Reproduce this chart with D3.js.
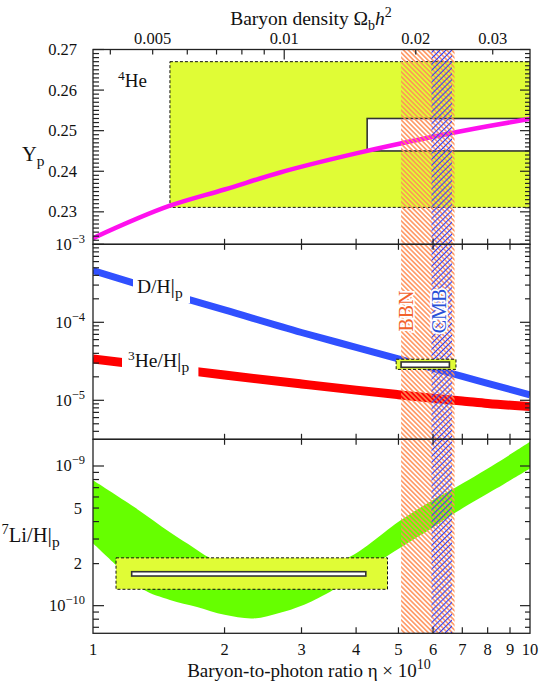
<!DOCTYPE html>
<html>
<head>
<meta charset="utf-8">
<script src="https://cdn.jsdelivr.net/npm/d3@7"></script>
<style>
  body { margin: 0; background: #fff; }
  svg { display: block; font-family: "Liberation Serif", "Times New Roman", serif; }
</style>
</head>
<body>
<div id="chart"></div>
<script>
// Daten
const etaTicks = [1, 2, 3, 4, 5, 6, 7, 8, 9, 10];
const omegaLabels = [0.005, 0.01, 0.02, 0.03];
const omegaMinor = [0.004, 0.005, 0.006, 0.007, 0.008, 0.009, 0.02, 0.03];
const omegaMajor = [0.01];
const etaPerOmega = 273.9;

// 4He
const heTicks = [0.23, 0.24, 0.25, 0.26, 0.27];
const etaHe = [1, 1.5, 2, 2.68, 4, 6, 8, 10];
const ypHe = [0.2235, 0.2315, 0.2355, 0.2397, 0.2444, 0.2485, 0.2511, 0.2529];
const heObsBox = [1.5, 10, 0.2311, 0.2670];      // eta0, eta1, y0, y1
const heInnerBox = [4.24, 10, 0.2450, 0.2530];

// D/H und 3He/H
const dTicks = [1e-3, 1e-4, 1e-5];
const etaD = [1, 1.5, 2, 3, 4, 5, 6, 7, 8, 10];
const dh = [4.6e-4, 2.3e-4, 1.44e-4, 7.4e-5, 4.77e-5, 3.39e-5, 2.57e-5, 2.02e-5, 1.65e-5, 1.17e-5];
const he3h = [3.4e-5, 2.57e-5, 2.11e-5, 1.62e-5, 1.35e-5, 1.18e-5, 1.06e-5, 9.8e-6, 9.1e-6, 8.3e-6];
const dObsBox = [4.94, 6.77, 2.49e-5, 3.36e-5];
const dInnerBox = [5.07, 6.54, 2.65e-5, 3.10e-5];

// 7Li/H
const liTicks = [1e-9, 5e-10, 2e-10, 1e-10];
const etaLiHi = [1, 1.24, 1.5, 1.7, 1.85, 2.2, 2.7, 3.2, 3.81, 5.07, 5.96, 6.71, 8.39, 10];
const liHi = [7.9e-10, 5.1e-10, 3.35e-10, 2.6e-10, 2.2e-10, 1.85e-10, 1.78e-10, 1.92e-10, 2.18e-10, 4.1e-10, 5.65e-10, 6.92e-10, 1.05e-9, 1.49e-9];
const etaLiLo = [1, 1.13, 1.3, 1.5, 1.73, 2.0, 2.33, 2.68, 3.0, 3.49, 5.07, 5.96, 6.71, 8.39, 10];
const liLo = [2.8e-10, 1.95e-10, 1.31e-10, 1.1e-10, 9.8e-11, 8.6e-11, 8.1e-11, 8.9e-11, 1.0e-10, 1.26e-10, 2.62e-10, 3.58e-10, 4.58e-10, 6.92e-10, 9.6e-10];
const liObsBox = [1.129, 4.72, 1.31e-10, 2.2e-10];
const liInnerBox = [1.226, 4.21, 1.63e-10, 1.75e-10];

// BBN / CMB Bereiche
const bbnRange = [5.07, 6.72];
const cmbRange = [5.95, 6.63];

// Farben
const yellow = "#e0fc36";
const frameColor = "#222";

const svg = d3.select("#chart")
    .append("svg")
    .attr("width", 540)
    .attr("height", 685);

// Skalen
const x = d3.scaleLog().domain([1, 10]).range([93, 530]);
const yHe = d3.scaleLinear().domain([0.222, 0.27]).range([244.3, 49.5]);
const yD = d3.scaleLog().domain([3.162e-6, 1e-3]).range([439.3, 244.3]);
const yLi = d3.scaleLog().domain([6.34e-11, 1.553e-9]).range([633.3, 439.3]);
const panels = [yHe, yD, yLi];

const defs = svg.append("defs");
panels.forEach((y, i) => {
    defs.append("clipPath").attr("id", "clip" + i)
        .append("rect")
        .attr("x", x(1)).attr("width", x(10) - x(1))
        .attr("y", y.range()[1]).attr("height", y.range()[0] - y.range()[1]);
});
defs.append("clipPath").attr("id", "clipAll")
    .append("rect")
    .attr("x", x(1)).attr("width", x(10) - x(1))
    .attr("y", yHe.range()[1]).attr("height", yLi.range()[0] - yHe.range()[1]);

// Schraffuren
defs.append("pattern").attr("id", "hatchBBN")
    .attr("patternUnits", "userSpaceOnUse")
    .attr("width", 3.4).attr("height", 10)
    .attr("patternTransform", "rotate(-45)")
    .append("line")
    .attr("x1", 1.7).attr("x2", 1.7).attr("y1", -1).attr("y2", 11)
    .attr("stroke", "#ff9058").attr("stroke-width", 1.5);
defs.append("pattern").attr("id", "hatchCMB")
    .attr("patternUnits", "userSpaceOnUse")
    .attr("width", 4.2).attr("height", 10)
    .attr("patternTransform", "rotate(45)")
    .append("line")
    .attr("x1", 2.1).attr("x2", 2.1).attr("y1", -1).attr("y2", 11)
    .attr("stroke", "#2a3cff").attr("stroke-width", 1.1);

function box(g, y, b, fill, dashed) {
    return g.append("rect")
        .attr("x", x(b[0])).attr("width", x(b[1]) - x(b[0]))
        .attr("y", y(b[3])).attr("height", y(b[2]) - y(b[3]))
        .attr("fill", fill)
        .attr("stroke", dashed ? "#111" : "#333")
        .attr("stroke-width", dashed ? 1 : 1.6)
        .attr("stroke-dasharray", dashed ? "3,2" : null);
}

// --- Panel 1: 4He
const gHe = svg.append("g").attr("clip-path", "url(#clip0)");
box(gHe, yHe, heObsBox, yellow, true);
box(gHe, yHe, heInnerBox, "#fff", false);
gHe.append("path")
    .datum(etaHe.map((e, i) => [e, ypHe[i]]))
    .attr("d", d3.line().x(d => x(d[0])).y(d => yHe(d[1])).curve(d3.curveMonotoneX))
    .attr("fill", "none").attr("stroke", "#ff10ee").attr("stroke-width", 4.5);

// --- Panel 3: 7Li Band
const gLi = svg.append("g").attr("clip-path", "url(#clip2)");
const liLine = d3.line().x(d => x(d[0])).y(d => yLi(d[1])).curve(d3.curveCatmullRom);
const hiPts = etaLiHi.map((e, i) => [e, liHi[i]]);
const loPts = etaLiLo.map((e, i) => [e, liLo[i]]).reverse();
gLi.append("path")
    .attr("d", liLine(hiPts) + "L" + liLine(loPts).slice(1) + "Z")
    .attr("fill", "#66ff00");
box(gLi, yLi, liObsBox, yellow, true);
box(gLi, yLi, liInnerBox, "#fff", false);

// --- Panel 2: D/H und 3He/H
const gD = svg.append("g").attr("clip-path", "url(#clip1)");
const dLine = d3.line().x(d => x(d[0])).y(d => yD(d[1])).curve(d3.curveMonotoneX);
gD.append("path")
    .datum(etaD.map((e, i) => [e, dh[i]]))
    .attr("d", dLine)
    .attr("fill", "none").attr("stroke", "#3050ff").attr("stroke-width", 7);
gD.append("path")
    .datum(etaD.map((e, i) => [e, he3h[i]]))
    .attr("d", dLine)
    .attr("fill", "none").attr("stroke", "#ff0000").attr("stroke-width", 9);

// Beschriftungen auf den Linien (weisser Hintergrund)
function curveLabel(xPos, yPos, sup, main, sub, padL, padR) {
    const g = svg.append("g");
    const bg = g.append("rect").attr("fill", "#fff");
    const t = g.append("text").attr("x", xPos).attr("y", yPos).style("font-size", "19.5px").attr("fill", "#111");
    if (sup) t.append("tspan").style("font-size", "13.5px").attr("dy", -7).text(sup);
    t.append("tspan").attr("dy", sup ? 7 : 0).text(main);
    t.append("tspan").style("font-size", "22px").text("|");
    t.append("tspan").style("font-size", "15.5px").attr("dy", 5).text(sub);
    const bb = t.node().getBBox();
    bg.attr("x", bb.x - padL).attr("width", bb.width + padL + padR)
        .attr("y", bb.y - 2).attr("height", bb.height + 4);
}
curveLabel(137, 293, null, "D/H", "p", 4, 7);
curveLabel(128, 367, "3", "He/H", "p", 6, 9);

// BBN / CMB Bänder
const gBands = svg.append("g").attr("clip-path", "url(#clipAll)");
gBands.append("rect")
    .attr("x", x(bbnRange[0])).attr("width", x(bbnRange[1]) - x(bbnRange[0]))
    .attr("y", yHe.range()[1]).attr("height", yLi.range()[0] - yHe.range()[1])
    .attr("fill", "url(#hatchBBN)");
gBands.append("rect")
    .attr("x", x(cmbRange[0])).attr("width", x(cmbRange[1]) - x(cmbRange[0]))
    .attr("y", yHe.range()[1]).attr("height", yLi.range()[0] - yHe.range()[1])
    .attr("fill", "url(#hatchCMB)");

// D-Box liegt über den Bändern
const gD2 = svg.append("g").attr("clip-path", "url(#clip1)");
box(gD2, yD, dObsBox, yellow, true);
box(gD2, yD, dInnerBox, "#fff", false);

// Band-Texte
[["BBN", x(bbnRange[0]) + 12, "#f2622c"], ["CMB", x(cmbRange[0]) + 15, "#2a52d8"]].forEach(d => {
    svg.append("text")
        .attr("transform", `translate(${d[1]},311) rotate(-90)`)
        .attr("text-anchor", "middle")
        .style("font-size", "20px")
        .attr("fill", d[2])
        .attr("stroke", "#fff").attr("stroke-width", 3.5)
        .attr("paint-order", "stroke")
        .text(d[0]);
});

// Rahmen und Ticks
const gAx = svg.append("g").attr("stroke", frameColor).attr("fill", "none");
panels.forEach(y => {
    gAx.append("rect")
        .attr("x", x(1)).attr("width", x(10) - x(1))
        .attr("y", y.range()[1]).attr("height", y.range()[0] - y.range()[1])
        .attr("stroke-width", 1.3);
});

function yTicks(y, values, len) {
    values.forEach(v => {
        gAx.append("line").attr("x1", x(1)).attr("x2", x(1) + len)
            .attr("y1", y(v)).attr("y2", y(v)).attr("stroke-width", 1.2);
        gAx.append("line").attr("x1", x(10)).attr("x2", x(10) - len + 1)
            .attr("y1", y(v)).attr("y2", y(v)).attr("stroke-width", 1.2);
    });
}
function logMinors(y) {
    const [lo, hi] = y.domain();
    const out = [];
    for (let d = Math.floor(Math.log10(lo)); d <= Math.ceil(Math.log10(hi)); d++) {
        for (let k = 2; k <= 9; k++) {
            const v = k * Math.pow(10, d);
            if (v >= lo && v <= hi) out.push(v);
        }
    }
    return out;
}
yTicks(yHe, d3.range(223, 270).map(v => v / 1000).filter(v => !heTicks.some(t => Math.abs(t - v) < 1e-6)), 6);
yTicks(yHe, heTicks, 11);
yTicks(yD, logMinors(yD), 6);
yTicks(yD, dTicks, 11);
yTicks(yLi, logMinors(yLi), 6);
yTicks(yLi, [1e-9, 1e-10], 11);

// x-Ticks an den Panel-Grenzen und unten
etaTicks.slice(1, -1).forEach(e => {
    [yHe.range()[0], yD.range()[0]].forEach(yy => {
        gAx.append("line").attr("x1", x(e)).attr("x2", x(e))
            .attr("y1", yy - 5.5).attr("y2", yy + 5.5).attr("stroke-width", 1.2);
    });
    gAx.append("line").attr("x1", x(e)).attr("x2", x(e))
        .attr("y1", yLi.range()[0]).attr("y2", yLi.range()[0] - 6).attr("stroke-width", 1.2);
});
// obere Achse: Omega_b h^2
omegaMinor.forEach(o => {
    gAx.append("line").attr("x1", x(o * etaPerOmega)).attr("x2", x(o * etaPerOmega))
        .attr("y1", yHe.range()[1]).attr("y2", yHe.range()[1] + 5).attr("stroke-width", 1.2);
});
omegaMajor.forEach(o => {
    gAx.append("line").attr("x1", x(o * etaPerOmega)).attr("x2", x(o * etaPerOmega))
        .attr("y1", yHe.range()[1]).attr("y2", yHe.range()[1] + 10).attr("stroke-width", 1.2);
});

// Tick-Beschriftungen
const gLab = svg.append("g").attr("fill", "#111").style("font-size", "16.5px");
etaTicks.forEach(e => {
    gLab.append("text").attr("x", x(e)).attr("y", 655).attr("text-anchor", "middle").text(e);
});
omegaLabels.forEach(o => {
    gLab.append("text").attr("x", x(o * etaPerOmega)).attr("y", 43.5).attr("text-anchor", "middle").text(o);
});
heTicks.forEach(v => {
    gLab.append("text").attr("x", 77).attr("y", yHe(v) + 5.5).attr("text-anchor", "end").text(v.toFixed(2));
});
function powLabel(y, v, exp) {
    const t = gLab.append("text").attr("x", 85).attr("y", y(v) + 5.5).attr("text-anchor", "end");
    t.append("tspan").text("10");
    t.append("tspan").attr("dy", -7).style("font-size", "12.5px").text("\u2212" + exp);
}
powLabel(yD, 1e-3, 3);
powLabel(yD, 1e-4, 4);
powLabel(yD, 1e-5, 5);
powLabel(yLi, 1e-9, 9);
powLabel(yLi, 1e-10, 10);
[[5e-10, "5"], [2e-10, "2"]].forEach(d => {
    gLab.append("text").attr("x", 82).attr("y", yLi(d[0]) + 5.5).attr("text-anchor", "end").text(d[1]);
});

// Achsentitel
const topTitle = svg.append("text").attr("x", 311).attr("y", 25).attr("text-anchor", "middle")
    .style("font-size", "19.5px").attr("fill", "#111");
topTitle.append("tspan").text("Baryon density \u03a9");
topTitle.append("tspan").attr("dy", 5).style("font-size", "14px").text("b");
topTitle.append("tspan").attr("dy", -5).style("font-style", "italic").text("h");
topTitle.append("tspan").attr("dy", -8).style("font-size", "14px").text("2");

const bottomTitle = svg.append("text").attr("x", 309).attr("y", 677).attr("text-anchor", "middle")
    .style("font-size", "19px").attr("fill", "#111");
bottomTitle.append("tspan").text("Baryon-to-photon ratio \u03b7 \u00d7 10");
bottomTitle.append("tspan").attr("dy", -8).style("font-size", "14px").text("10");

const ylab1 = svg.append("text").attr("x", 22).attr("y", 161).style("font-size", "20.5px").attr("fill", "#111");
ylab1.append("tspan").text("Y");
ylab1.append("tspan").attr("dy", 5).style("font-size", "15.5px").text("p");

const ylab3 = svg.append("text").attr("x", 1.5).attr("y", 542).style("font-size", "20.5px").attr("fill", "#111");
ylab3.append("tspan").attr("dy", -8).style("font-size", "14.5px").text("7");
ylab3.append("tspan").attr("dy", 8).text("Li/H");
ylab3.append("tspan").style("font-size", "22px").text("|");
ylab3.append("tspan").attr("dy", 5).style("font-size", "15.5px").text("p");

const he4 = svg.append("text").attr("x", 118).attr("y", 87).style("font-size", "19px").attr("fill", "#111");
he4.append("tspan").attr("dy", -7).style("font-size", "13.5px").text("4");
he4.append("tspan").attr("dy", 7).text("He");
</script>
</body>
</html>
